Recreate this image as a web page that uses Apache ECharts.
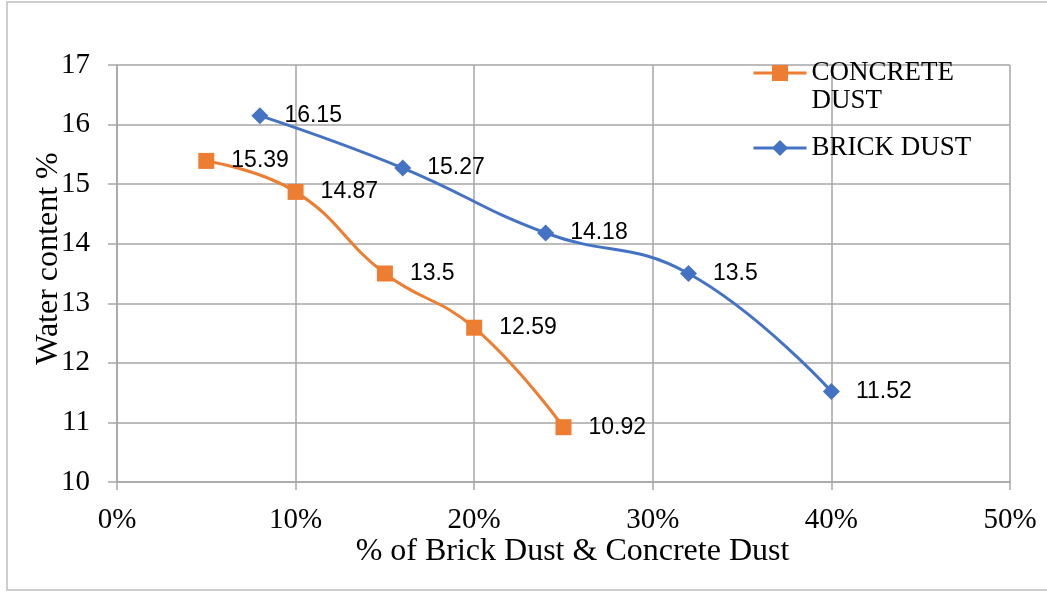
<!DOCTYPE html>
<html><head><meta charset="utf-8">
<script src="https://cdn.jsdelivr.net/npm/echarts@6/dist/echarts.min.js"></script>
<style>html,body{margin:0;padding:0;background:#fff}#c{width:1047px;height:592px}</style>
</head><body><div id="c"></div>
<script>
const concreteX = [5, 10, 15, 20, 25];
const concreteY = [15.39, 14.87, 13.5, 12.59, 10.92];
const brickX = [8, 16, 24, 32, 40];
const brickY = [16.15, 15.27, 14.18, 13.5, 11.52];
const xTicks = [0, 10, 20, 30, 40, 50];
const yTicks = [10, 11, 12, 13, 14, 15, 16, 17];

const serif = '"Liberation Serif","Times New Roman",serif';
const sans = '"Liberation Sans","Open Sans",sans-serif';
const gridC = '#a6a6a6';

const chart = echarts.init(document.getElementById('c'), null, {renderer: 'canvas'});
chart.setOption({
  animation: false,
  backgroundColor: '#fff',
  graphic: [{
    type: 'rect', shape: {x: 7, y: 2, width: 1060, height: 588},
    style: {fill: 'none', stroke: '#bfbfbf', lineWidth: 1.5}, z: -10
  }],
  grid: {left: 117, right: 37, top: 65, bottom: 110, containLabel: false},
  legend: [{
    data: ['CONCRETE DUST'], left: 752, top: 31, padding: 0, orient: 'vertical',
    itemWidth: 53, itemHeight: 20,
    lineStyle: {width: 3},
    formatter: () => ' \nCONCRETE\nDUST',
    textStyle: {fontFamily: serif, fontSize: 27, color: '#000', lineHeight: 28}
  }, {
    data: ['BRICK DUST'], left: 752, top: 133, padding: 0, orient: 'vertical',
    itemWidth: 53, itemHeight: 20,
    lineStyle: {width: 3},
    textStyle: {fontFamily: serif, fontSize: 27, color: '#000', lineHeight: 30}
  }],
  xAxis: {
    type: 'value', min: xTicks[0], max: xTicks[xTicks.length - 1], interval: 10,
    name: '% of Brick Dust & Concrete Dust', nameLocation: 'middle', nameGap: 54,
    nameMoveOverlap: false,
    nameTextStyle: {fontFamily: serif, fontSize: 32, color: '#000', padding: [0, 0, 0, 18]},
    axisLine: {show: true, lineStyle: {color: gridC, width: 1.5}},
    axisTick: {show: true, length: 8, lineStyle: {color: gridC, width: 1.5}},
    splitLine: {show: true, lineStyle: {color: gridC, width: 1.5}},
    axisLabel: {fontFamily: serif, fontSize: 29, color: '#000', margin: 24, formatter: v => v + '%'}
  },
  yAxis: {
    type: 'value', min: yTicks[0], max: yTicks[yTicks.length - 1], interval: 1,
    name: 'Water content %', nameLocation: 'middle', nameGap: 52,
    nameMoveOverlap: false,
    nameTextStyle: {fontFamily: serif, fontSize: 32, color: '#000', padding: [0, 0, 0, 30]},
    axisLine: {show: true, lineStyle: {color: gridC, width: 1.5}},
    axisTick: {show: true, length: 9, lineStyle: {color: gridC, width: 1.5}},
    splitLine: {show: true, lineStyle: {color: gridC, width: 1.5}},
    axisLabel: {fontFamily: serif, fontSize: 29, color: '#000', margin: 27}
  },
  series: [{
    name: 'CONCRETE DUST', type: 'line', smooth: 0.45,
    data: concreteX.map((x, i) => [x, concreteY[i]]),
    symbol: 'rect', symbolSize: 16,
    itemStyle: {color: '#ED7D31'}, lineStyle: {color: '#ED7D31', width: 3},
    label: {show: true, position: 'right', distance: 17, fontFamily: sans, fontSize: 23, color: '#000',
      formatter: p => String(p.value[1])}
  }, {
    name: 'BRICK DUST', type: 'line', smooth: 0.45,
    data: brickX.map((x, i) => [x, brickY[i]]),
    symbol: 'diamond', symbolSize: 17,
    itemStyle: {color: '#4472C4'}, lineStyle: {color: '#4472C4', width: 3},
    label: {show: true, position: 'right', distance: 16, fontFamily: sans, fontSize: 23, color: '#000',
      formatter: p => String(p.value[1])}
  }]
});
</script></body></html>
